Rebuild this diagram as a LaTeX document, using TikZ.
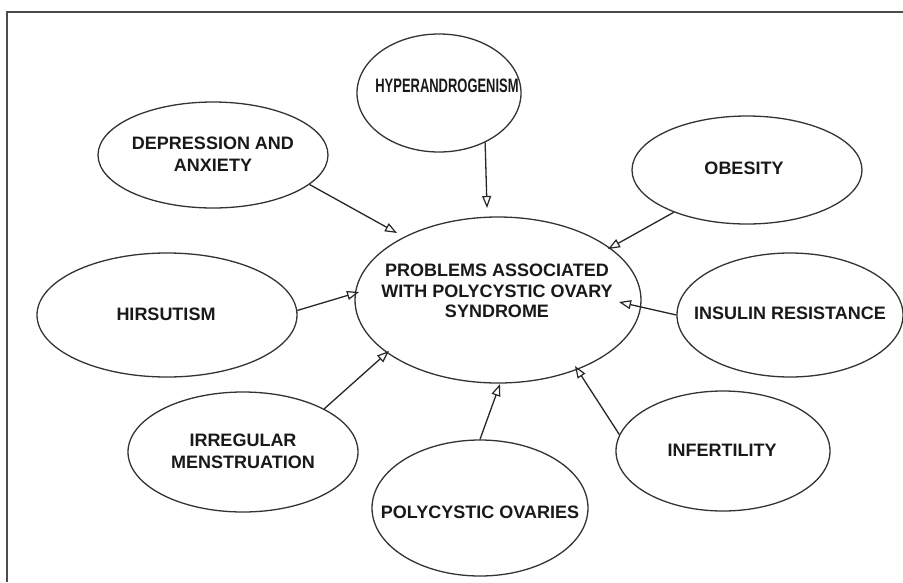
\documentclass[tikz,border=0pt]{standalone}
\usepackage{fontspec}
\setmainfont{Liberation Sans}
\usetikzlibrary{shapes.geometric,arrows.meta}
\begin{document}
\begin{tikzpicture}[x=1pt,y=-1pt,
 blob/.style={draw=black!80, line width=1.3pt, ellipse, inner sep=0pt},
 lbl/.style={font=\bfseries\fontsize{18}{22}\selectfont, align=center, inner sep=0pt, text=black!90},
 conn/.style={draw=black!85, line width=1.3pt, -{Triangle[open,length=12pt,width=9pt,line width=1.2pt]}}]
\useasboundingbox (0,0) rectangle (903,582);
\draw[line width=1.2pt, black!70] (7,582) -- (7,12) -- (903,12);
% ellipses
\node[blob, minimum width=286pt, minimum height=166pt] (cen) at (498,300) {};
\node[blob, minimum width=164pt, minimum height=118pt] (hyp) at (439,93) {};
\node[blob, minimum width=230pt, minimum height=106pt] (dep) at (213,155) {};
\node[blob, minimum width=230pt, minimum height=108pt] (obe) at (747,170) {};
\node[blob, minimum width=260pt, minimum height=124pt] (hir) at (167,315) {};
\node[blob, minimum width=226pt, minimum height=124pt] (ins) at (790,315) {};
\node[blob, minimum width=230pt, minimum height=120pt] (irr) at (243,452) {};
\node[blob, minimum width=214pt, minimum height=120pt] (inf) at (723,451) {};
\node[blob, minimum width=216pt, minimum height=136pt] (pol) at (480,508) {};
% labels
\node[lbl, font=\bfseries\fontsize{18}{20.5}\selectfont] (cent) at (497,291) {PROBLEMS ASSOCIATED\\WITH POLYCYSTIC OVARY\\SYNDROME};
\node[lbl] (hypt) at (447,86) {\scalebox{0.72}[1.08]{HYPERANDROGENISM}};
\node[lbl] (dept) at (213,154) {DEPRESSION AND\\ANXIETY};
\node[lbl] (obet) at (744,168) {OBESITY};
\node[lbl] (hirt) at (166,314) {HIRSUTISM};
\node[lbl] (inst) at (790,313) {INSULIN RESISTANCE};
\node[lbl] (irrt) at (243,451) {IRREGULAR\\MENSTRUATION};
\node[lbl] (inft) at (722,450) {INFERTILITY};
\node[lbl] (polt) at (480,512) {POLYCYSTIC OVARIES};
% arrow tips
\coordinate (tdep) at (397,233);
\coordinate (thyp) at (487,208);
\coordinate (tobe) at (608,249);
\coordinate (tins) at (619,302);
\coordinate (tinf) at (575,366);
\coordinate (tpol) at (500,384);
\coordinate (tirr) at (389,351);
\coordinate (thir) at (359,292);
% connectors
\draw[conn] (dep.-17) -- (tdep);
\draw[conn] (hyp.-47) -- (thyp);
\draw[conn] (obe.210) -- (tobe);
\draw[conn] (ins.180) -- (tins);
\draw[conn] (inf.171) -- (tinf);
\draw[conn] (pol.90) -- (tpol);
\draw[conn] (irr.28) -- (tirr);
\draw[conn] (hir.2) -- (thir);
\end{tikzpicture}
\end{document}
